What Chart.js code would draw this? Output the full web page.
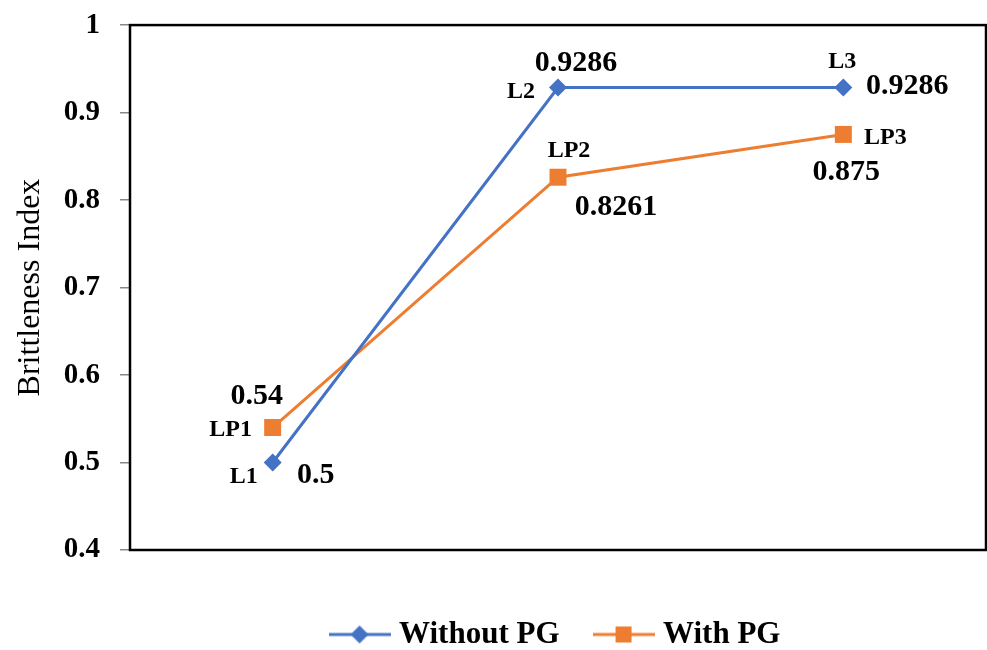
<!DOCTYPE html>
<html>
<head>
<meta charset="utf-8">
<script src="https://cdn.jsdelivr.net/npm/chart.js@4.4.1/dist/chart.umd.min.js"></script>
<style>
  html, body { margin: 0; padding: 0; background: #ffffff; overflow: hidden; }
  #wrap { width: 987px; height: 650px; }
  canvas { display: block; }
</style>
</head>
<body>
<div id="wrap"><canvas id="c" width="987" height="650"></canvas></div>
<script>
// ---- data ----
const categories = ['1', '2', '3'];
const seriesNames = ['Without PG', 'With PG'];
const withoutPG = [0.5, 0.9286, 0.9286];
const withPG = [0.54, 0.8261, 0.875];
const withoutPGNames = ['L1', 'L2', 'L3'];
const withPGNames = ['LP1', 'LP2', 'LP3'];
const yTicks = { min: 0.4, max: 1, step: 0.1 };
const yTitle = 'Brittleness Index';

// ---- styles ----
const BLUE = '#4472C4';
const ORANGE = '#ED7D31';
const FONT = "'Liberation Serif', 'Times New Roman', serif";

// label offsets (pixels, relative to each point): [nameDx, nameDy, valueDx, valueDy]
const labelOffsets = [
  [[-29, 14, 43, 13], [-37, 4.5, 18, -24.5], [-1, -25.5, 64, -1.5]],
  [[-42, 2.5, -16, -31.5], [11, -26, 58, 30], [42, 3.5, 3, 37.5]]
];
const names = [withoutPGNames, withPGNames];

function legendIcon(color, style) {
  const c = document.createElement('canvas');
  c.width = 62; c.height = 22;
  const g = c.getContext('2d');
  g.strokeStyle = color; g.lineWidth = 3;
  g.beginPath(); g.moveTo(0, 11); g.lineTo(62, 11); g.stroke();
  g.fillStyle = color;
  g.beginPath();
  if (style === 'diamond') {
    g.moveTo(31, 2); g.lineTo(40, 11); g.lineTo(31, 20); g.lineTo(22, 11); g.closePath();
  } else {
    g.rect(23, 3, 16, 16);
  }
  g.fill();
  return c;
}
const legendIcons = [legendIcon(BLUE, 'diamond'), legendIcon(ORANGE, 'square')];

const pointLabels = {
  id: 'pointLabels',
  afterDatasetsDraw(chart) {
    const ctx = chart.ctx;
    ctx.save();
    ctx.fillStyle = '#000';
    ctx.textAlign = 'center';
    ctx.textBaseline = 'middle';
    chart.data.datasets.forEach((ds, di) => {
      const meta = chart.getDatasetMeta(di);
      meta.data.forEach((pt, i) => {
        const o = labelOffsets[di][i];
        ctx.font = "bold 24px " + FONT;
        ctx.fillText(names[di][i], pt.x + o[0], pt.y + o[1]);
        ctx.font = "bold 30px " + FONT;
        ctx.fillText(String(ds.data[i]), pt.x + o[2], pt.y + o[3]);
      });
    });
    ctx.restore();
  }
};

const frame = {
  id: 'frame',
  afterDraw(chart) {
    const a = chart.chartArea, ctx = chart.ctx;
    ctx.save();
    ctx.strokeStyle = '#000';
    ctx.lineWidth = 2.5;
    ctx.strokeRect(a.left, a.top, a.right - a.left, a.bottom - a.top);
    ctx.restore();
  }
};

new Chart(document.getElementById('c'), {
  type: 'line',
  data: {
    labels: categories,
    datasets: [
      {
        label: seriesNames[0], data: withoutPG,
        borderColor: BLUE, backgroundColor: BLUE, borderWidth: 3,
        pointStyle: 'rectRot', pointRadius: 9, pointHoverRadius: 9,
        pointBackgroundColor: BLUE, pointBorderColor: BLUE, pointBorderWidth: 0,
        tension: 0
      },
      {
        label: seriesNames[1], data: withPG,
        borderColor: ORANGE, backgroundColor: ORANGE, borderWidth: 3,
        pointStyle: 'rect', pointRadius: 12, pointHoverRadius: 12,
        pointBackgroundColor: ORANGE, pointBorderColor: ORANGE, pointBorderWidth: 0,
        tension: 0
      }
    ]
  },
  options: {
    responsive: false,
    animation: false,
    layout: { autoPadding: false, padding: { top: 25, right: 1, left: 0, bottom: -10 } },
    plugins: {
      tooltip: { enabled: false },
      legend: {
        position: 'bottom',
        fullSize: false,
        labels: {
          usePointStyle: true,
          pointStyleWidth: 48,
          padding: 40,
          color: '#000',
          font: { family: FONT, size: 31, weight: 'bold' },
          generateLabels: (chart) => chart.data.datasets.map((ds, i) => ({
            text: ds.label,
            pointStyle: legendIcons[i],
            fillStyle: ds.borderColor,
            strokeStyle: ds.borderColor,
            lineWidth: 0,
            hidden: false,
            datasetIndex: i,
            fontColor: '#000'
          }))
        }
      }
    },
    scales: {
      x: {
        type: 'category',
        offset: true,
        ticks: { display: false },
        grid: { display: false },
        border: { display: false },
        afterFit(scale) { scale.height = 29; }
      },
      y: {
        min: yTicks.min,
        max: yTicks.max,
        ticks: {
          stepSize: yTicks.step,
          color: '#000',
          padding: 20,
          font: { family: FONT, size: 29, weight: 'bold', lineHeight: 0.35 },
          callback: (v) => String(Number(v.toFixed(1)))
        },
        grid: { drawOnChartArea: false, drawTicks: true, tickLength: 10, color: '#888', lineWidth: 1.5 },
        border: { display: false },
        title: {
          display: true,
          text: yTitle,
          color: '#000',
          padding: { top: 11, bottom: 0 },
          font: { family: FONT, size: 32, weight: 'normal' }
        },
        afterFit(scale) { scale.width = 130; }
      }
    }
  },
  plugins: [pointLabels, frame]
});
</script>
</body>
</html>
